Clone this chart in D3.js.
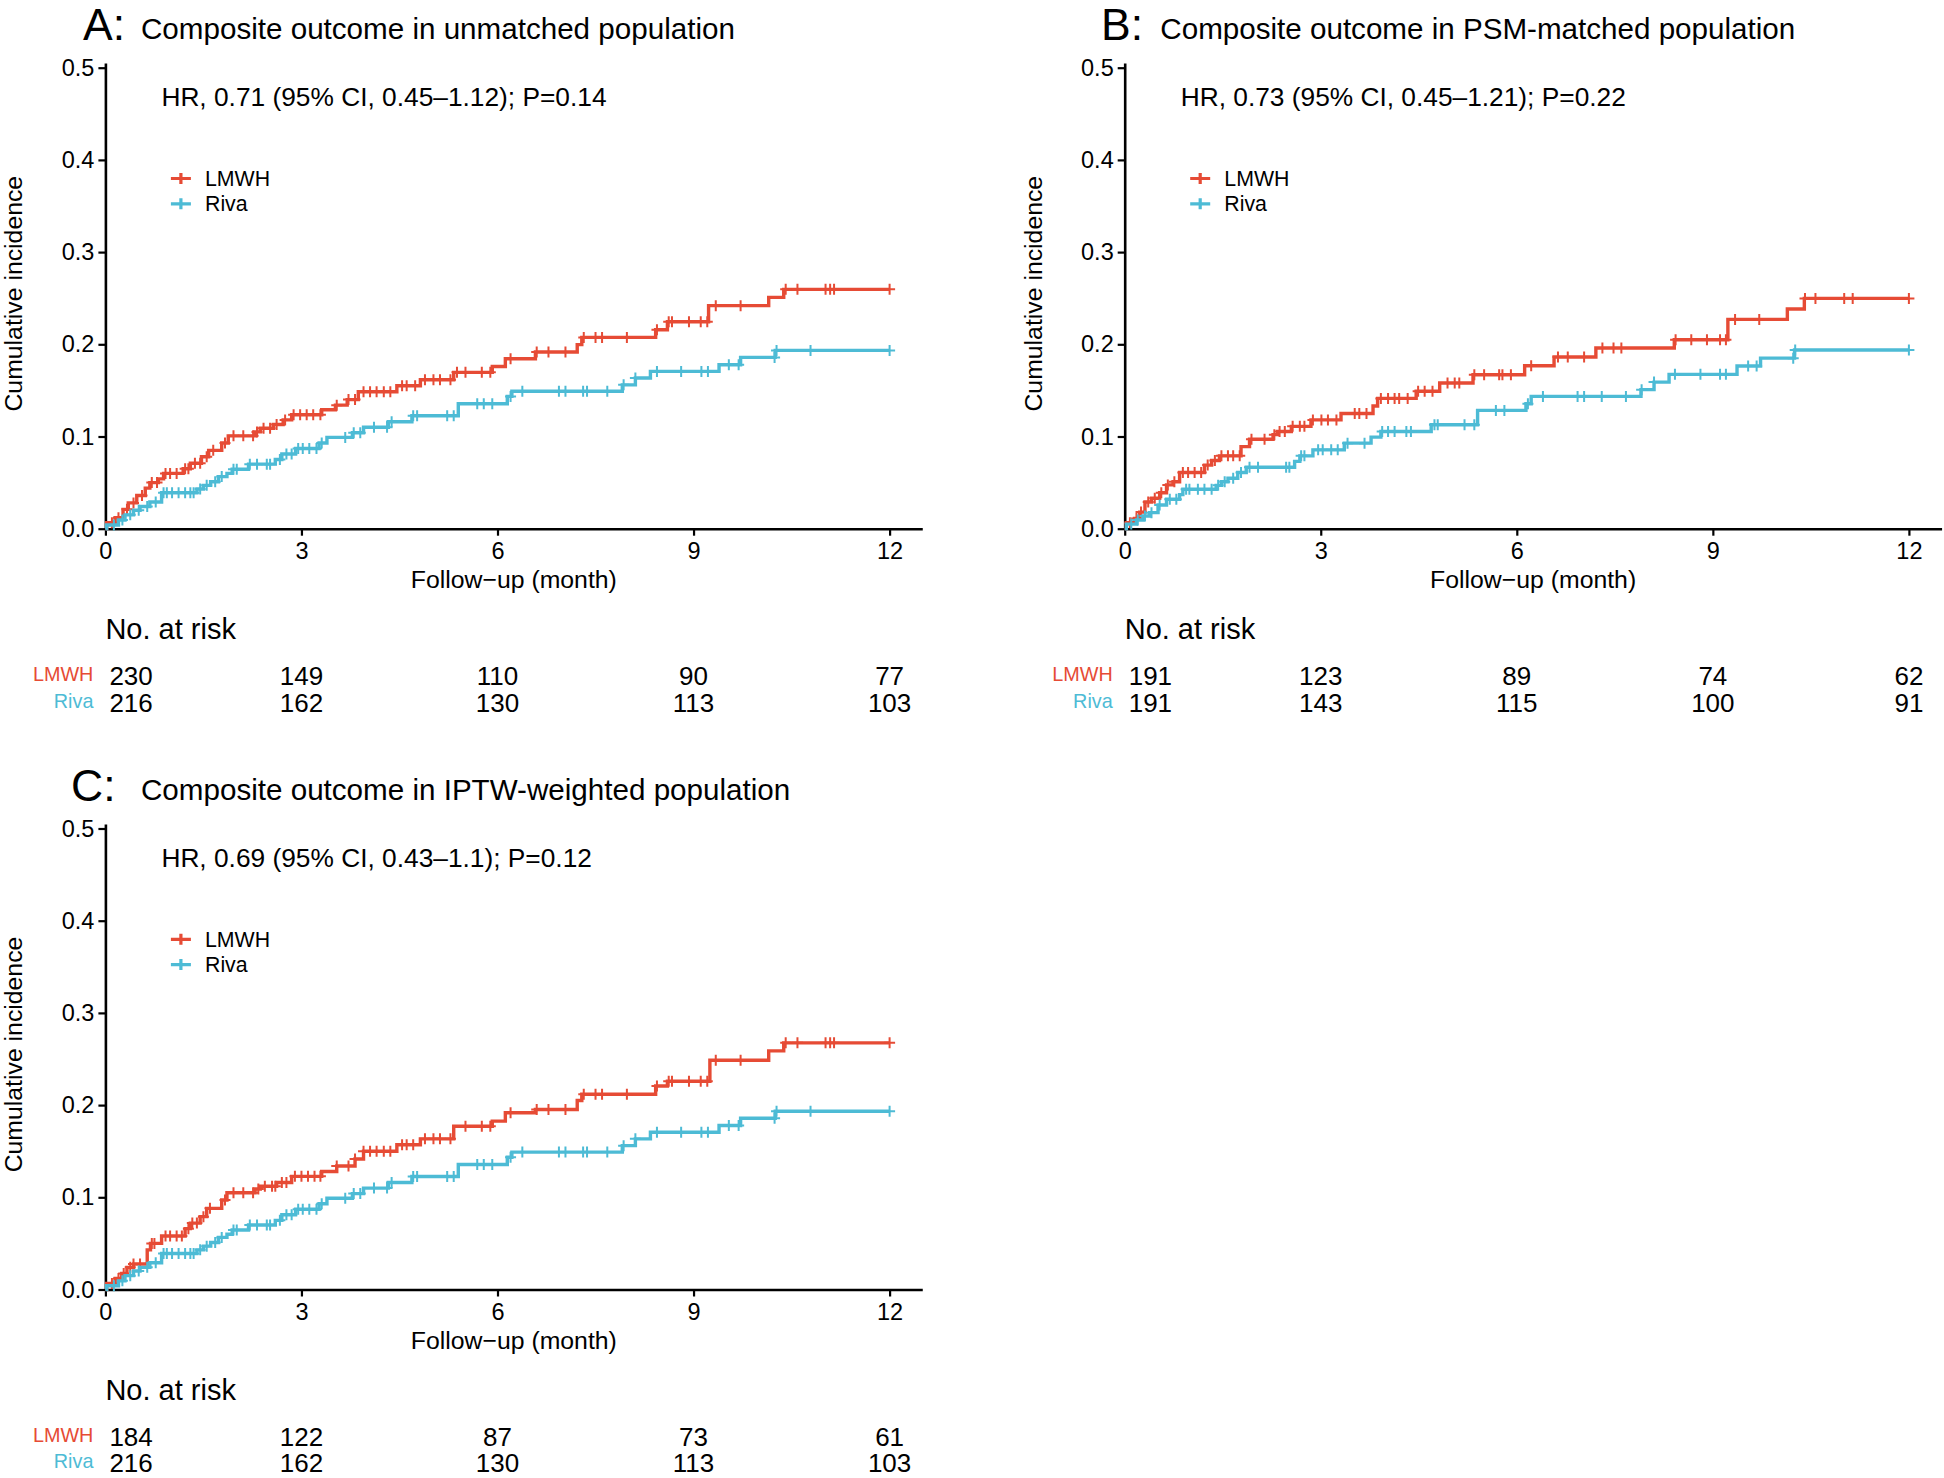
<!DOCTYPE html>
<html><head><meta charset="utf-8">
<script src="https://cdn.jsdelivr.net/npm/d3@7"></script>
<style>
html,body{margin:0;padding:0;background:#fff;}
svg{display:block;font-family:"Liberation Sans",Arial,Helvetica,sans-serif;}
</style></head><body>
<svg id="chart" width="1944" height="1478"></svg>
<script>
// ---------------- DATA ----------------
const xTicks = [0, 3, 6, 9, 12];
const yTicks = [0, 0.1, 0.2, 0.3, 0.4, 0.5];
const groups = ["LMWH", "Riva"];
const riskTimes = [0, 3, 6, 9, 12];

const panelIds = ["A", "B", "C"];
const panelTitles = ["Composite outcome in unmatched population",
                     "Composite outcome in PSM-matched population",
                     "Composite outcome in IPTW-weighted population"];
const hrTexts = ["HR, 0.71 (95% CI, 0.45\u20131.12); P=0.14",
                 "HR, 0.73 (95% CI, 0.45\u20131.21); P=0.22",
                 "HR, 0.69 (95% CI, 0.43\u20131.1); P=0.12"];

// step points: [month, cumulative incidence after the event]
const lmwhStepsA = [[0.02,0.0065],[0.15,0.012],[0.27,0.021],[0.35,0.028],[0.48,0.036],[0.61,0.044],[0.68,0.05],[0.81,0.054],[0.89,0.06],[1.19,0.065],[1.30,0.071],[1.47,0.078],[1.58,0.085],[1.78,0.093],[1.88,0.1007],[2.29,0.105],[2.37,0.109],[2.57,0.113],[2.72,0.118],[2.85,0.1236],[3.31,0.129],[3.52,0.134],[3.70,0.14],[3.87,0.1486],[4.46,0.155],[4.82,0.1616],[5.33,0.1696],[5.92,0.176],[6.12,0.1844],[6.58,0.1916],[7.22,0.1996],[7.29,0.2075],[8.42,0.2158],[8.60,0.2245],[9.23,0.2419],[10.15,0.2509],[10.38,0.2596]];
const rivaStepsA = [[0.02,0.004],[0.20,0.0094],[0.30,0.015],[0.43,0.02],[0.53,0.024],[0.68,0.029],[0.86,0.039],[1.40,0.043],[1.50,0.047],[1.61,0.051],[1.73,0.0565],[1.86,0.06],[1.94,0.0645],[2.19,0.07],[2.60,0.075],[2.70,0.081],[2.91,0.087],[3.27,0.093],[3.39,0.099],[3.78,0.104],[3.95,0.11],[4.33,0.116],[4.69,0.1225],[5.40,0.1356],[6.15,0.1435],[6.22,0.149],[7.91,0.156],[8.11,0.1634],[8.34,0.1706],[9.39,0.1779],[9.72,0.1858],[10.25,0.1934]];
const lmwhCensorA = [0.10,0.20,0.33,0.43,0.56,0.71,0.79,0.92,0.99,1.09,1.22,1.27,1.37,1.45,1.55,1.65,1.83,1.96,2.11,2.26,2.32,2.42,2.52,2.62,2.75,2.88,2.98,3.08,3.18,3.29,3.54,3.72,3.82,3.95,4.05,4.15,4.26,4.36,4.54,4.61,4.74,4.89,5.02,5.12,5.28,5.38,5.51,5.76,5.89,6.20,6.60,6.78,7.04,7.32,7.50,7.60,7.98,8.44,8.62,8.67,8.93,9.11,9.21,9.34,9.72,10.41,10.59,11.02,11.09,11.15,12.0];
const rivaCensorA = [0.13,0.26,0.38,0.51,0.64,0.77,0.89,0.94,1.02,1.12,1.22,1.30,1.35,1.45,1.55,1.68,1.78,1.96,2.01,2.21,2.32,2.47,2.52,2.67,2.77,2.85,2.95,3.02,3.12,3.23,3.31,3.67,3.80,3.90,4.11,4.31,4.38,4.71,4.77,5.23,5.33,5.69,5.79,5.92,6.20,6.38,6.94,7.04,7.31,7.37,7.68,7.93,8.11,8.44,8.81,9.12,9.22,9.54,9.69,10.24,10.27,10.79,12.0];

const lmwhStepsB = [[0.025,0.0065],[0.15,0.011],[0.23,0.018],[0.31,0.029],[0.41,0.033],[0.535,0.039],[0.64,0.0475],[0.74,0.051],[0.84,0.061],[1.22,0.069],[1.33,0.074],[1.45,0.079],[1.78,0.089],[1.91,0.097],[2.27,0.102],[2.34,0.1055],[2.55,0.111],[2.85,0.118],[3.31,0.125],[3.80,0.133],[3.87,0.1413],[4.46,0.149],[4.82,0.158],[5.33,0.167],[6.12,0.1768],[6.57,0.1862],[7.21,0.196],[8.41,0.205],[9.23,0.227],[10.14,0.2383],[10.40,0.2498]];
const rivaStepsB = [[0.025,0.005],[0.18,0.0094],[0.28,0.0138],[0.38,0.0174],[0.51,0.0257],[0.64,0.032],[0.84,0.037],[0.89,0.0428],[1.40,0.047],[1.48,0.051],[1.58,0.0547],[1.73,0.061],[1.86,0.0667],[2.60,0.073],[2.68,0.079],[2.88,0.0855],[3.36,0.0928],[3.77,0.0993],[3.92,0.1055],[4.69,0.1127],[5.40,0.1283],[6.14,0.1356],[6.22,0.1435],[7.90,0.1508],[8.10,0.159],[8.33,0.1674],[9.37,0.1764],[9.73,0.185],[10.25,0.1938]];
const lmwhCensorB = [0.08,0.18,0.25,0.36,0.46,0.56,0.66,0.76,0.89,0.97,1.07,1.17,1.27,1.38,1.48,1.58,1.66,1.76,1.94,2.14,2.29,2.37,2.45,2.57,2.68,2.75,2.88,3.01,3.11,3.24,3.52,3.59,3.70,3.92,4.03,4.13,4.20,4.33,4.49,4.59,4.71,4.94,5.05,5.12,5.35,5.50,5.73,5.78,5.91,6.22,6.63,6.78,7.03,7.31,7.48,7.60,8.43,8.67,8.91,9.11,9.20,9.34,9.71,10.41,10.57,11.01,11.14,12.0];
const rivaCensorB = [0.10,0.20,0.31,0.41,0.535,0.69,0.79,0.94,0.99,1.12,1.22,1.33,1.43,1.53,1.66,1.78,1.91,2.04,2.47,2.52,2.70,2.75,2.96,3.03,3.16,3.26,3.41,3.67,3.94,4.03,4.13,4.31,4.38,4.74,4.79,5.20,5.35,5.68,5.81,6.17,6.40,6.93,7.03,7.30,7.67,7.91,8.10,8.42,8.81,9.11,9.20,9.54,9.67,10.23,10.26,12.0];

const lmwhStepsC = [[0.02,0.0065],[0.15,0.012],[0.25,0.0174],[0.33,0.024],[0.43,0.0276],[0.64,0.043],[0.69,0.05],[0.86,0.058],[1.22,0.066],[1.30,0.072],[1.45,0.079],[1.55,0.088],[1.78,0.097],[1.86,0.105],[2.29,0.109],[2.37,0.112],[2.62,0.116],[2.85,0.1227],[3.31,0.128],[3.54,0.134],[3.82,0.1416],[3.95,0.15],[4.46,0.157],[4.82,0.1634],[5.33,0.177],[5.92,0.1826],[6.12,0.1917],[6.58,0.1953],[7.22,0.205],[7.29,0.2117],[8.42,0.2207],[8.60,0.2258],[9.25,0.2487],[10.15,0.2588],[10.38,0.2675]];
const rivaStepsC = [[0.02,0.004],[0.20,0.0094],[0.30,0.015],[0.43,0.02],[0.53,0.024],[0.68,0.029],[0.86,0.039],[1.40,0.043],[1.50,0.047],[1.61,0.051],[1.73,0.0565],[1.86,0.06],[1.94,0.0645],[2.19,0.07],[2.60,0.075],[2.70,0.081],[2.91,0.087],[3.27,0.093],[3.39,0.099],[3.78,0.104],[3.95,0.11],[4.33,0.116],[4.69,0.1225],[5.40,0.1356],[6.15,0.1435],[6.22,0.149],[7.91,0.156],[8.11,0.1634],[8.34,0.1706],[9.39,0.1779],[9.72,0.1858],[10.25,0.1934]];
const lmwhCensorC = [0.10,0.20,0.28,0.38,0.43,0.53,0.71,0.75,0.92,0.99,1.09,1.17,1.27,1.33,1.40,1.50,1.60,1.83,1.96,2.11,2.26,2.34,2.44,2.55,2.60,2.70,2.77,2.90,3.00,3.10,3.20,3.29,3.54,3.72,3.82,3.95,4.05,4.15,4.26,4.36,4.54,4.61,4.71,4.89,5.02,5.12,5.28,5.51,5.76,5.89,6.20,6.60,6.78,7.04,7.32,7.50,7.60,7.98,8.44,8.62,8.67,8.93,9.11,9.21,9.34,9.72,10.41,10.59,11.02,11.09,11.15,12.0];
const rivaCensorC = [0.13,0.26,0.38,0.51,0.64,0.77,0.89,0.94,1.02,1.12,1.22,1.30,1.35,1.45,1.55,1.68,1.78,1.96,2.01,2.21,2.32,2.47,2.52,2.67,2.77,2.85,2.95,3.02,3.12,3.23,3.31,3.67,3.80,3.90,4.11,4.31,4.38,4.71,4.77,5.23,5.33,5.69,5.79,5.92,6.20,6.38,6.94,7.04,7.31,7.37,7.68,7.93,8.11,8.44,8.81,9.12,9.22,9.54,9.69,10.24,10.27,10.79,12.0];

const riskLmwhA = [230, 149, 110, 90, 77];
const riskRivaA = [216, 162, 130, 113, 103];
const riskLmwhB = [191, 123, 89, 74, 62];
const riskRivaB = [191, 143, 115, 100, 91];
const riskLmwhC = [184, 122, 87, 73, 61];
const riskRivaC = [216, 162, 130, 113, 103];

// ---------------- STYLE / LAYOUT ----------------
const colors = {LMWH: "#E64B35", Riva: "#4DBBD5"};
const PX_MONTH = 65.35, PX_UNIT = 922;
const layout = {
  A: {x0: 105.4, y0: 528.7, letterX: 83},
  B: {x0: 1124.7, y0: 528.7, letterX: 1101},
  C: {x0: 105.4, y0: 1289.5, letterX: 71}
};

const panels = panelIds.map((id, i) => ({
  id, title: panelTitles[i], hr: hrTexts[i],
  steps: {LMWH: [lmwhStepsA, lmwhStepsB, lmwhStepsC][i], Riva: [rivaStepsA, rivaStepsB, rivaStepsC][i]},
  censor: {LMWH: [lmwhCensorA, lmwhCensorB, lmwhCensorC][i], Riva: [rivaCensorA, rivaCensorB, rivaCensorC][i]},
  risk: {LMWH: [riskLmwhA, riskLmwhB, riskLmwhC][i], Riva: [riskRivaA, riskRivaB, riskRivaC][i]}
}));

function stepValue(steps, t) {
  let v = 0;
  for (const [s, val] of steps) { if (s <= t) v = val; else break; }
  return v;
}

const svg = d3.select("#chart");
svg.append("rect").attr("width", 1944).attr("height", 1478).attr("fill", "#fff");

panels.forEach(p => {
  const L = layout[p.id];
  const x = d3.scaleLinear().domain([0, 12.5]).range([L.x0, L.x0 + 12.5 * PX_MONTH]);
  const y = d3.scaleLinear().domain([0, 0.505]).range([L.y0, L.y0 - 0.505 * PX_UNIT]);
  const g = svg.append("g");

  // title
  g.append("text").attr("x", L.letterX).attr("y", L.y0 - 488.5)
    .attr("font-size", 44.5).text(p.id + ":");
  g.append("text").attr("x", L.x0 + 35.6).attr("y", L.y0 - 490)
    .attr("font-size", 29.6).text(p.title);

  // axes
  const xa = g.append("g").attr("transform", `translate(0,${L.y0})`)
    .call(d3.axisBottom(x).tickValues(xTicks).tickFormat(d3.format("d")).tickSize(7).tickPadding(7).tickSizeOuter(0));
  const ya = g.append("g").attr("transform", `translate(${L.x0},0)`)
    .call(d3.axisLeft(y).tickValues(yTicks).tickFormat(d3.format(".1f")).tickSize(7).tickPadding(4).tickSizeOuter(0));
  [xa, ya].forEach(a => {
    a.attr("font-family", null).attr("font-size", null);
    a.selectAll(".domain").attr("stroke", "#000").attr("stroke-width", 2.6);
    a.selectAll(".tick line").attr("stroke", "#000").attr("stroke-width", 2.2);
    a.selectAll(".tick text").attr("fill", "#000").attr("font-size", 23.5);
  });

  // axis titles
  g.append("text").attr("x", x(6.25)).attr("y", L.y0 + 59.6)
    .attr("text-anchor", "middle").attr("font-size", 24.8).text("Follow\u2212up (month)");
  g.append("text").attr("transform", `translate(${L.x0 - 83},${L.y0 - 235}) rotate(-90)`)
    .attr("text-anchor", "middle").attr("font-size", 24.8).text("Cumulative incidence");

  // HR
  g.append("text").attr("x", L.x0 + 56).attr("y", L.y0 - 422.7)
    .attr("font-size", 26.3).text(p.hr);

  // curves
  const line = d3.line().x(d => x(d[0])).y(d => y(d[1])).curve(d3.curveStepAfter);
  groups.forEach(gr => {
    const st = p.steps[gr];
    const pts = [[0, 0], ...st, [12, st[st.length - 1][1]]];
    g.append("path").attr("d", line(pts)).attr("fill", "none")
      .attr("stroke", colors[gr]).attr("stroke-width", 3.4);
    g.append("g").selectAll("path").data(p.censor[gr]).join("path")
      .attr("d", t => {
        const cx = x(t), cy = y(stepValue(st, t));
        return `M${cx - 5.5},${cy}H${cx + 5.5}M${cx},${cy - 5.5}V${cy + 5.5}`;
      })
      .attr("stroke", colors[gr]).attr("stroke-width", 2).attr("fill", "none");
  });

  // legend
  groups.forEach((gr, i) => {
    const cy = L.y0 - 350.2 + i * 25.3;
    const lx = L.x0 + 65.5;
    g.append("path").attr("d", `M${lx},${cy}H${lx + 20}M${lx + 10},${cy - 5.5}V${cy + 5.5}`)
      .attr("stroke", colors[gr]).attr("stroke-width", 3.2).attr("fill", "none");
    g.append("text").attr("x", L.x0 + 99.6).attr("y", cy).attr("dy", "0.36em")
      .attr("font-size", 21.3).text(gr);
  });

  // risk table
  g.append("text").attr("x", L.x0).attr("y", L.y0 + 110.6)
    .attr("font-size", 29).text("No. at risk");
  groups.forEach((gr, i) => {
    const by = L.y0 + 156.3 + i * 26.6;
    g.append("text").attr("x", L.x0 - 12).attr("y", by - 4)
      .attr("text-anchor", "end").attr("font-size", 19.8).attr("fill", colors[gr]).text(gr);
    g.append("g").selectAll("text").data(p.risk[gr]).join("text")
      .attr("x", (d, j) => j === 0 ? x(riskTimes[j]) + 4 : x(riskTimes[j]))
      .attr("text-anchor", (d, j) => j === 0 ? "start" : "middle")
      .attr("y", by).attr("font-size", 26).text(d => d);
  });
});
</script>
</body></html>
